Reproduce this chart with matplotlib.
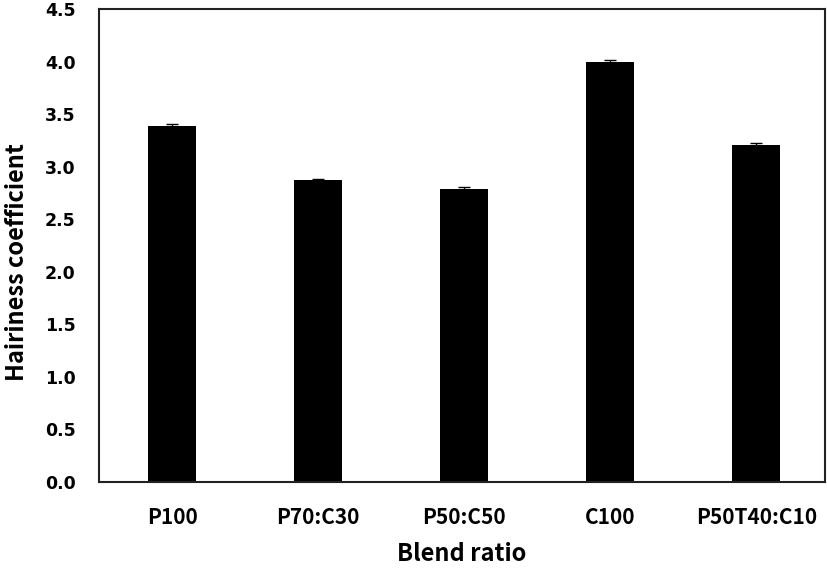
import matplotlib
matplotlib.use("Agg")
import matplotlib.pyplot as plt
import numpy as np

categories = ["P100", "P70:C30", "P50:C50", "C100", "P50T40:C10"]
values = [3.39, 2.87, 2.79, 4.00, 3.21]
errors = [0.02, 0.015, 0.015, 0.015, 0.015]

plt.rcParams['font.family'] = ['Noto Sans CJK KR', 'DejaVu Sans']

fig = plt.figure(figsize=(8.27, 5.69), dpi=100)
ax = fig.add_axes([0.1197, 0.1529, 0.8779, 0.8313])

x = np.arange(len(categories))
ax.bar(x, values, width=0.33, color='black', yerr=errors,
       error_kw=dict(ecolor='black', elinewidth=1, capsize=4, capthick=1))

ax.set_xlim(-0.5, 4.47)
ax.set_ylim(0, 4.5)
yt = np.arange(0, 4.51, 0.5)
ax.set_yticks(yt)
ax.set_yticklabels([f"{v:.1f}" for v in yt], fontfamily='DejaVu Sans',
                   fontweight='bold', fontsize=12.5)
ax.set_xticks(x)
ax.set_xticklabels(categories, fontweight='bold', fontsize=15)
ax.tick_params(axis='both', length=0)
ax.tick_params(axis='y', pad=17)
ax.tick_params(axis='x', pad=18)

for s in ax.spines.values():
    s.set_linewidth(1.5)
    s.set_color('#222222')

fig.text(462 / 827, (569 - 561) / 569, "Blend ratio", fontsize=17,
         fontweight='bold', ha='center', va='baseline')
fig.text(17 / 827, (569 - 262) / 569, "Hairiness coefficient", fontsize=17,
         fontweight='bold', ha='center', va='center', rotation=90)

fig.savefig("out.png", dpi=100)
